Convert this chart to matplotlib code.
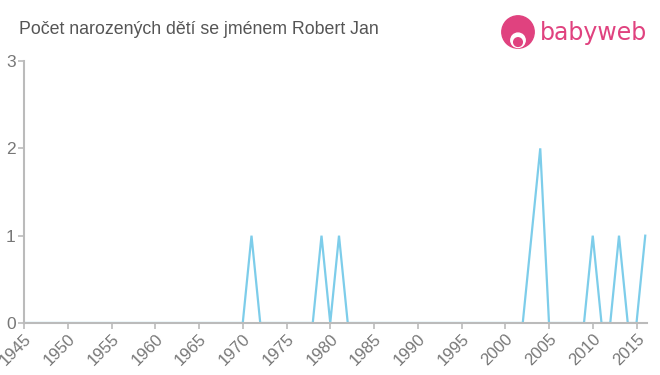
import matplotlib
matplotlib.use("Agg")
import matplotlib.pyplot as plt
from matplotlib.patches import Circle

# data
years = list(range(1945, 2017))
peaks = {1971: 1, 1979: 1, 1981: 1, 2003: 1, 2004: 2, 2010: 1, 2013: 1, 2016: 1}
counts = [peaks.get(y, 0) for y in years]

xticks = list(range(1945, 2016, 5))
yticks = [0, 1, 2, 3]
title = "Počet narozených dětí se jménem Robert Jan"

line_color = "#7dcdea"
axis_color = "#bbbbbb"
label_color = "#777777"
pink = "#e0427f"

plt.rcParams['font.family'] = ['Liberation Sans', 'DejaVu Sans']

fig = plt.figure(figsize=(6.6, 3.75), dpi=100)
ax = fig.add_axes([24 / 660, 52 / 375, 623 / 660, 262 / 375])

ax.plot(years, counts, color=line_color, linewidth=1.6, solid_joinstyle="miter")
ax.set_xlim(1945, 2016.2)
ax.set_ylim(0, 3)

ax.set_xticks(xticks)
ax.set_xticklabels([str(t) for t in xticks], rotation=45, ha="right",
                   rotation_mode="anchor", fontsize=12, color=label_color)
ax.set_yticks(yticks)
ax.set_yticklabels([str(t) for t in yticks], fontsize=12.5, color=label_color)
ax.tick_params(axis="x", length=4, width=1.2, color=axis_color, pad=2)
ax.tick_params(axis="y", length=4, width=1.2, color=axis_color, pad=2)

for s in ["top", "right"]:
    ax.spines[s].set_visible(False)
for s in ["left", "bottom"]:
    ax.spines[s].set_color(axis_color)
    ax.spines[s].set_linewidth(1.5)

fig.text(19 / 660, 1 - 30 / 375, title, fontsize=12.8, color="#555555",
         va="center", ha="left")

# logo
logo = fig.add_axes([500 / 660, 1 - 50 / 375, 36 / 660, 36 / 375])
logo.set_xlim(0, 1)
logo.set_ylim(0, 1)
logo.set_aspect("equal")
logo.axis("off")
logo.add_patch(Circle((0.5, 0.5), 0.45, color=pink))
logo.add_patch(Circle((0.5, 0.27), 0.2, color="white"))
logo.add_patch(Circle((0.5, 0.22), 0.12, color=pink))
fig.text(540 / 660, 1 - 40 / 375, "babyweb", fontsize=17, color=pink,
         va="baseline", ha="left", family="DejaVu Sans")

fig.savefig("out.png", dpi=100)
